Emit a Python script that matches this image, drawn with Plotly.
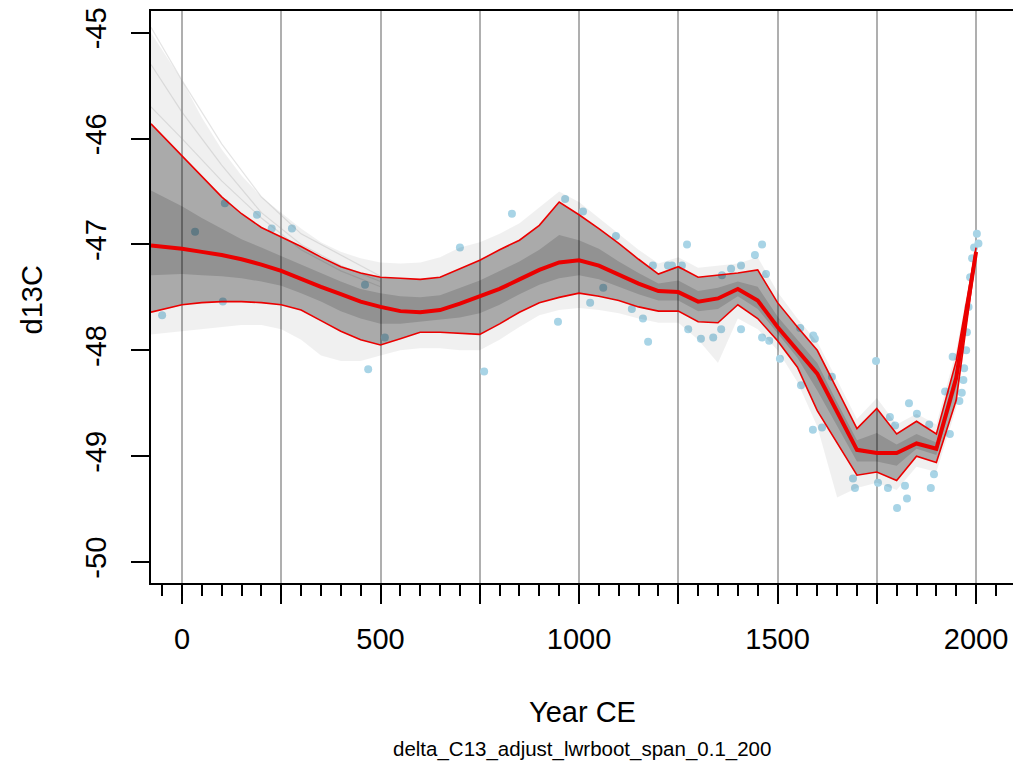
import plotly.graph_objects as go

# ---------------- data ----------------
years = [-78, 0, 50, 100, 150, 200, 250, 300, 350, 400, 450, 500, 550, 600, 650, 700,
         750, 800, 850, 900, 950, 1000, 1050, 1100, 1150, 1200, 1250, 1300, 1350, 1400,
         1450, 1500, 1550, 1600, 1650, 1700, 1750, 1800, 1850, 1900, 1950, 2000]

mean_fit = [-47.01, -47.04, -47.07, -47.10, -47.14, -47.19, -47.25, -47.32, -47.40, -47.47,
            -47.54, -47.59, -47.63, -47.64, -47.62, -47.56, -47.49, -47.42, -47.33, -47.24,
            -47.17, -47.15, -47.20, -47.29, -47.37, -47.44, -47.45, -47.54, -47.51, -47.42,
            -47.53, -47.78, -48.00, -48.22, -48.58, -48.94, -48.97, -48.97, -48.88, -48.93,
            -48.26, -47.07]

upper_ci = [-45.86, -46.16, -46.36, -46.55, -46.71, -46.84, -46.93, -47.02, -47.12, -47.21,
            -47.27, -47.31, -47.32, -47.33, -47.31, -47.23, -47.15, -47.05, -46.96, -46.82,
            -46.60, -46.72, -46.85, -46.99, -47.14, -47.28, -47.21, -47.31, -47.29, -47.27,
            -47.24, -47.55, -47.78, -48.00, -48.37, -48.74, -48.55, -48.79, -48.67, -48.79,
            -48.10, -47.03]

lower_ci = [-47.64, -47.57, -47.55, -47.54, -47.54, -47.55, -47.57, -47.62, -47.72, -47.82,
            -47.90, -47.95, -47.89, -47.83, -47.83, -47.84, -47.85, -47.75, -47.64, -47.55,
            -47.50, -47.46, -47.49, -47.53, -47.59, -47.63, -47.63, -47.73, -47.74, -47.57,
            -47.70, -47.91, -48.16, -48.57, -48.87, -49.18, -49.15, -49.23, -49.00, -49.06,
            -48.47, -47.09]

# dense core of the bootstrap curves
core_hi = [-46.49, -46.64, -46.75, -46.85, -46.95, -47.03, -47.11, -47.19, -47.27, -47.35,
           -47.42, -47.46, -47.49, -47.50, -47.48, -47.41, -47.34, -47.25, -47.16, -47.05,
           -46.91, -46.96, -47.04, -47.16, -47.27, -47.37, -47.34, -47.44, -47.41, -47.35,
           -47.40, -47.68, -47.90, -48.12, -48.49, -48.85, -48.78, -48.89, -48.79, -48.87,
           -48.19, -47.05]
core_lo = [-47.29, -47.28, -47.29, -47.30, -47.32, -47.35, -47.39, -47.46, -47.54, -47.63,
           -47.70, -47.75, -47.75, -47.73, -47.71, -47.69, -47.65, -47.57, -47.47, -47.38,
           -47.32, -47.29, -47.33, -47.40, -47.47, -47.53, -47.53, -47.63, -47.61, -47.49,
           -47.61, -47.84, -48.07, -48.38, -48.71, -49.05, -49.05, -49.09, -48.93, -48.99,
           -48.35, -47.08]

# extent of the faint outlying bootstrap curves
outer_hi = [-45.00, -45.45, -45.80, -46.10, -46.35, -46.55, -46.70, -46.85, -46.98, -47.07,
            -47.13, -47.17, -47.18, -47.17, -47.12, -47.03, -46.98, -46.90, -46.80, -46.65,
            -46.50, -46.60, -46.75, -46.90, -47.05, -47.18, -47.12, -47.22, -47.20, -47.18,
            -47.12, -47.45, -47.70, -47.92, -48.28, -48.65, -48.45, -48.70, -48.60, -48.70,
            -48.00, -47.00]
outer_lo = [-47.85, -47.82, -47.80, -47.78, -47.76, -47.76, -47.80, -47.90, -48.05, -48.10,
            -48.10, -48.05, -48.00, -47.98, -47.98, -48.00, -48.00, -47.90, -47.78, -47.67,
            -47.62, -47.60, -47.62, -47.65, -47.70, -47.74, -47.74, -47.90, -48.12, -47.70,
            -47.80, -48.00, -48.30, -48.72, -49.39, -49.30, -49.25, -49.32, -49.10, -49.15,
            -48.55, -47.12]

# a few faint fanning curves at the start
fan_years = [-78, 0, 100, 200, 300, 400, 500]
fan_a = [-44.95, -45.45, -46.05, -46.55, -46.90, -47.10, -47.30]
fan_b = [-45.30, -45.75, -46.25, -46.70, -47.00, -47.20, -47.35]
fan_c = [-45.70, -46.00, -46.40, -46.75, -47.05, -47.25, -47.40]

pt_year = [-50, 33, 103, 108, 189, 226, 277, 461, 469, 511, 700, 761, 831, 947, 965, 1010,
           1028, 1061, 1093, 1133, 1161, 1174, 1186, 1224, 1234, 1259, 1272, 1275, 1307, 1338,
           1358, 1360, 1383, 1408, 1408, 1443, 1461, 1461, 1471, 1479, 1506, 1557, 1559, 1589,
           1590, 1594, 1612, 1637, 1690, 1695, 1748, 1753, 1778, 1783, 1796, 1801, 1821, 1826,
           1831, 1851, 1882, 1886, 1894, 1922, 1934, 1941, 1958, 1964, 1968, 1970, 1975, 1977,
           1981, 1985, 1990, 1995, 2002, 2006]
pt_d13c = [-47.67, -46.88, -47.54, -46.61, -46.72, -46.85, -46.85, -47.38, -48.18, -47.88,
           -47.03, -48.20, -46.71, -47.73, -46.57, -46.69, -47.55, -47.41, -46.92, -47.61,
           -47.70, -47.92, -47.20, -47.20, -47.20, -47.20, -47.00, -47.80, -47.89, -47.88,
           -47.80, -47.29, -47.23, -47.20, -47.80, -47.10, -47.00, -47.88, -47.28, -47.91,
           -48.08, -47.79, -48.33, -48.75, -47.86, -47.89, -48.73, -48.25, -49.21, -49.30,
           -48.10, -49.25, -49.30, -48.63, -48.71, -49.49, -49.28, -49.40, -48.50, -48.60,
           -48.70, -49.30, -49.17, -48.39, -48.79, -48.06, -48.48, -48.40, -48.28, -48.17,
           -48.00, -47.83, -47.59, -47.31, -47.13, -47.03, -46.90, -46.99]

x_tickvals = [0, 250, 500, 750, 1000, 1250, 1500, 1750, 2000]
x_ticktext = ["0", "", "500", "", "1000", "", "1500", "", "2000"]
y_tickvals = [-50, -49, -48, -47, -46, -45]
y_ticktext = ["-50", "-49", "-48", "-47", "-46", "-45"]

FONT = "Liberation Sans, Arial, sans-serif"

fig = go.Figure()

# data points
fig.add_trace(go.Scatter(x=pt_year, y=pt_d13c, mode="markers",
                         marker=dict(color="rgb(168,212,230)", size=8, line=dict(width=0)),
                         showlegend=False, hoverinfo="skip"))

def band(hi, lo, color):
    fig.add_trace(go.Scatter(x=years, y=lo, mode="lines", line=dict(width=0),
                             showlegend=False, hoverinfo="skip"))
    fig.add_trace(go.Scatter(x=years, y=hi, mode="lines", line=dict(width=0),
                             fill="tonexty", fillcolor=color, showlegend=False,
                             hoverinfo="skip"))

band(outer_hi, outer_lo, "rgba(0,0,0,0.06)")
for f in (fan_a, fan_b, fan_c):
    fig.add_trace(go.Scatter(x=fan_years, y=f, mode="lines",
                             line=dict(color="rgba(150,150,150,0.25)", width=1.2),
                             showlegend=False, hoverinfo="skip"))
band(upper_ci, lower_ci, "rgba(0,0,0,0.29)")
band(core_hi, core_lo, "rgba(0,0,0,0.14)")

# CI and mean
for arr in (upper_ci, lower_ci):
    fig.add_trace(go.Scatter(x=years, y=arr, mode="lines",
                             line=dict(color="rgb(235,0,0)", width=1.6),
                             showlegend=False, hoverinfo="skip"))
fig.add_trace(go.Scatter(x=years, y=mean_fit, mode="lines",
                         line=dict(color="rgb(235,0,0)", width=4),
                         showlegend=False, hoverinfo="skip"))

fig.update_layout(
    width=1013, height=764,
    margin=dict(l=151, r=0, t=11, b=181),
    paper_bgcolor="white", plot_bgcolor="white",
    font=dict(family=FONT, color="black"),
    xaxis=dict(range=[-78, 2093], tickmode="array", tickvals=x_tickvals,
               ticktext=x_ticktext, ticks="outside", ticklen=19, tickwidth=2,
               tickcolor="black", showline=True, linecolor="black", linewidth=2,
               mirror=True, showgrid=True, gridcolor="rgb(175,175,175)", gridwidth=1.5,
               zeroline=False, tickfont=dict(size=29, family=FONT),
               ticklabelstandoff=10,
               minor=dict(tickmode="linear", tick0=0, dtick=50, ticks="outside",
                          ticklen=11, tickwidth=2, tickcolor="black", showgrid=False)),
    yaxis=dict(range=[-50.198, -44.795], tickmode="array", tickvals=y_tickvals,
               ticktext=y_ticktext, ticks="outside", ticklen=18, tickwidth=2,
               tickcolor="black", showline=True, linecolor="black", linewidth=2,
               showgrid=False, zeroline=False, tickangle=-90,
               tickfont=dict(size=29, family=FONT), ticklabelstandoff=13),
    annotations=[
        dict(text="d13C", xref="paper", yref="paper", x=-0.138, y=0.494,
             textangle=-90, showarrow=False, font=dict(size=29, family=FONT),
             xanchor="center", yanchor="middle"),
        dict(text="Year CE", xref="paper", yref="paper", x=0.5, y=-0.226,
             showarrow=False, font=dict(size=29, family=FONT),
             xanchor="center", yanchor="middle"),
        dict(text="delta_C13_adjust_lwrboot_span_0.1_200", xref="paper", yref="paper",
             x=0.5, y=-0.29, showarrow=False, font=dict(size=20.5, family=FONT),
             xanchor="center", yanchor="middle"),
    ],
)

fig.write_html("out.html")
